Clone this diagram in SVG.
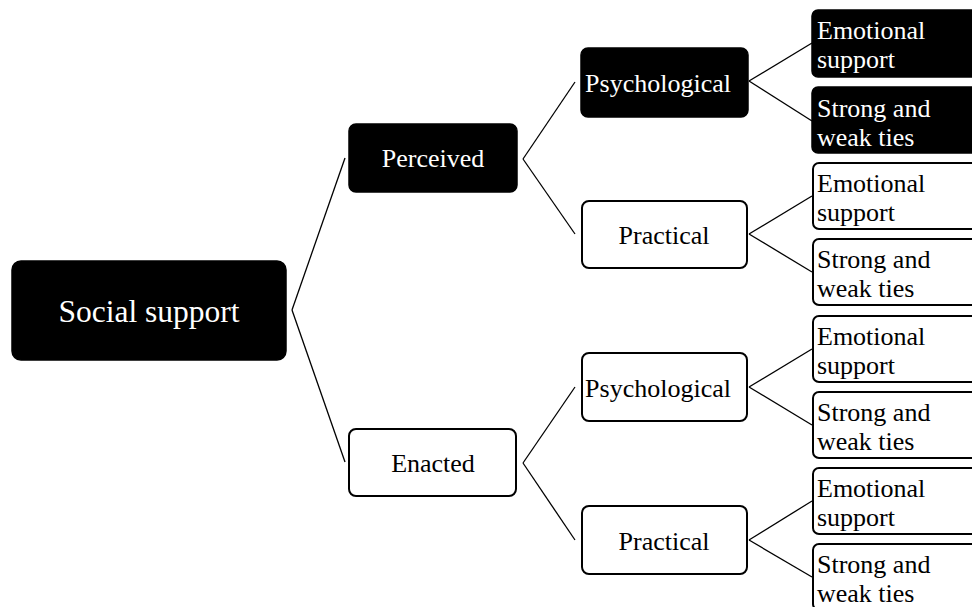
<svg xmlns="http://www.w3.org/2000/svg" width="972" height="607" viewBox="0 0 972 607">
<style>
.dark rect{fill:#000;stroke:#000;stroke-width:1.5}
.light rect{fill:#fff;stroke:#000;stroke-width:2}
text{font-family:"Liberation Serif","Times New Roman",serif;font-size:26px}
.dark text{fill:#fff}
.light text{fill:#000}
.mid{text-anchor:middle}
#connectors line{stroke:#000;stroke-width:1.3}
</style>
<rect width="972" height="607" fill="#fff"/>
<g id="connectors">
<line x1="292" y1="310" x2="345" y2="158"/>
<line x1="292" y1="310" x2="345" y2="462"/>
<line x1="523" y1="159" x2="575" y2="82"/>
<line x1="523" y1="159" x2="575" y2="234"/>
<line x1="523" y1="463" x2="575" y2="387"/>
<line x1="523" y1="463" x2="575" y2="540"/>
<line x1="749" y1="81" x2="812" y2="43"/>
<line x1="749" y1="81" x2="812" y2="121"/>
<line x1="749" y1="234" x2="812" y2="196"/>
<line x1="749" y1="234" x2="812" y2="272"/>
<line x1="749" y1="387" x2="812" y2="349"/>
<line x1="749" y1="387" x2="812" y2="425"/>
<line x1="749" y1="540" x2="812" y2="501"/>
<line x1="749" y1="540" x2="812" y2="577"/>
</g>
<g id="social-support" class="dark"><rect x="12" y="261" width="274" height="99" rx="9"/><text class="mid" x="149" y="322" style="font-size:31.5px">Social support</text></g>
<g id="perceived" class="dark"><rect x="349" y="124" width="168" height="68" rx="7"/><text class="mid" x="433" y="167">Perceived</text></g>
<g id="enacted" class="light"><rect x="349" y="429" width="167" height="67" rx="7"/><text class="mid" x="433" y="472">Enacted</text></g>
<g id="perceived-psychological" class="dark"><rect x="581" y="48" width="167" height="69" rx="7"/><text class="mid" x="658" y="92">Psychological</text></g>
<g id="perceived-practical" class="light"><rect x="582" y="201" width="165" height="67" rx="7"/><text class="mid" x="664" y="244">Practical</text></g>
<g id="enacted-psychological" class="light"><rect x="582" y="353" width="165" height="68" rx="7"/><text class="mid" x="658" y="397">Psychological</text></g>
<g id="enacted-practical" class="light"><rect x="582" y="506" width="165" height="68" rx="7"/><text class="mid" x="664" y="550">Practical</text></g>
<g id="pp-emotional" class="dark"><rect x="812" y="10" width="200" height="67" rx="6"/><text x="817" y="39">Emotional</text><text x="817" y="68">support</text></g>
<g id="pp-ties" class="dark"><rect x="812" y="87" width="200" height="66" rx="6"/><text x="817" y="117">Strong and</text><text x="817" y="146">weak ties</text></g>
<g id="pr-emotional" class="light"><rect x="813" y="163" width="200" height="66" rx="6"/><text x="817" y="192">Emotional</text><text x="817" y="221">support</text></g>
<g id="pr-ties" class="light"><rect x="813" y="239" width="200" height="66" rx="6"/><text x="817" y="268">Strong and</text><text x="817" y="297">weak ties</text></g>
<g id="ep-emotional" class="light"><rect x="813" y="316" width="200" height="66" rx="6"/><text x="817" y="345">Emotional</text><text x="817" y="374">support</text></g>
<g id="ep-ties" class="light"><rect x="813" y="392" width="200" height="66" rx="6"/><text x="817" y="421">Strong and</text><text x="817" y="450">weak ties</text></g>
<g id="epr-emotional" class="light"><rect x="813" y="468" width="200" height="66" rx="6"/><text x="817" y="497">Emotional</text><text x="817" y="526">support</text></g>
<g id="epr-ties" class="light"><rect x="813" y="544" width="200" height="66" rx="6"/><text x="817" y="573">Strong and</text><text x="817" y="602">weak ties</text></g>
</svg>
